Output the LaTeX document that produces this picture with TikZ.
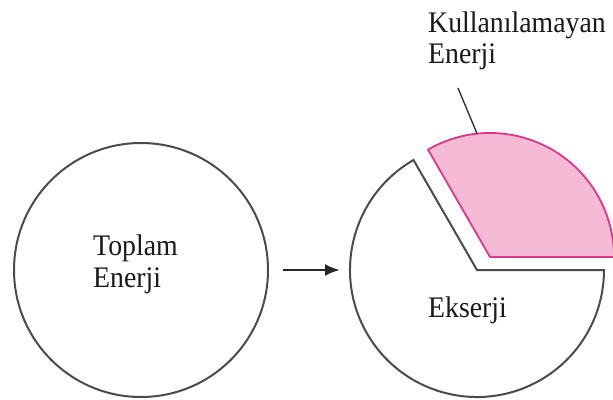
\documentclass[tikz,border=0pt]{standalone}
\usepackage{fontspec}
\setmainfont{Liberation Serif}[FakeStretch=0.93]
\usetikzlibrary{arrows.meta,calc}

\definecolor{ringgray}{RGB}{75,75,75}
\definecolor{lossfill}{RGB}{246,187,212}
\definecolor{lossline}{RGB}{226,52,140}

\tikzset{
  ring/.style={draw=ringgray, line width=2bp},
  lossslice/.style={draw=lossline, fill=lossfill, line width=1.8bp, line join=round},
  label/.style={anchor=base west, inner sep=0pt, text=black!90,
                font=\fontsize{30}{34}\selectfont},
  flow/.style={draw=black!85, line width=2.4bp, -{Latex[length=15bp,width=12bp]}},
  leader/.style={draw=black!80, line width=1.4bp}
}

\begin{document}
\begin{tikzpicture}[x=1bp,y=1bp]
  \useasboundingbox (0,0) rectangle (613,399);
  \clip (0,0) rectangle (613,399);

  % total energy: full circle
  \node[ring, circle, minimum size=254bp, inner sep=0pt] (total) at (141,129) {};
  \node[label] (total1) at (93,144) {Toplam};
  \node[label] (total2) at (93,112) {Enerji};

  % split circle: exergy part and the detached unusable slice
  \coordinate (split) at (477,129);
  \coordinate (slice) at (490,142);

  \draw[ring, line join=miter] (split) -- ++(120:127)
        arc[start angle=120, end angle=360, radius=127] -- cycle;
  \draw[lossslice] (slice) -- ++(120:124)
        arc[start angle=120, end angle=0, radius=124] -- cycle;

  \node[label] (exergy) at (428,82) {Ekserji};

  % label of the unusable slice with its leader line
  \node[label] (loss1) at (428,367) {Kullanılamayan};
  \node[label] (loss2) at (428,336) {Enerji};
  \coordinate (leadtop) at (458,311);
  \draw[leader] (leadtop) -- ($(slice)+(96:124)$);

  % transition arrow
  \draw[flow] ([xshift=14bp]total.east) -- ([xshift=-137bp]split);
\end{tikzpicture}
\end{document}
